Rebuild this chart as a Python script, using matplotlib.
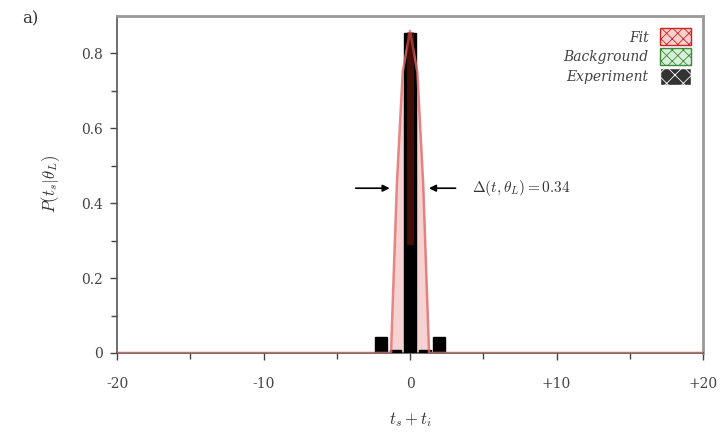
import numpy as np
import matplotlib.pyplot as plt
from matplotlib.patches import Patch

# data
exp_x = [-2, -1, 0, 1, 2]
exp_y = [0.043, 0.008, 0.855, 0.008, 0.043]
bg_x = [-1, 0, 1]
bg_y = [0.006, 0.012, 0.006]
fit_x = [-20, -2, -1.3, -0.9, -0.5, 0, 0.5, 0.9, 1.3, 2, 20]
fit_y = [0.0, 0.0, 0.0, 0.45, 0.75, 0.86, 0.75, 0.45, 0.0, 0.0, 0.0]
xticks = [-20, -10, 0, 10, 20]
xticklabels = ['-20', '-10', '0', '+10', '+20']
yticks = [0, 0.2, 0.4, 0.6, 0.8]
yticklabels = ['0', '0.2', '0.4', '0.6', '0.8']

plt.rcParams['font.family'] = 'serif'
plt.rcParams['font.serif'] = ['DejaVu Serif']
plt.rcParams['mathtext.fontset'] = 'cm'
plt.rcParams['hatch.linewidth'] = 0.6

fig = plt.figure(figsize=(7.27, 4.32), dpi=100)
ax = fig.add_axes([0.161, 0.183, 0.806, 0.78])

##Fit curve with light fill
ax.fill_between(fit_x, fit_y, color='#f2b4b4', alpha=0.6, lw=0, zorder=1)
##Background and experiment bars
ax.bar(bg_x, bg_y, width=0.8, color='#cfe8cf', edgecolor='#3a8a3a', lw=0.6, zorder=2)
ax.bar(exp_x, exp_y, width=0.8, color='black', edgecolor='black', zorder=3)
ax.plot(fit_x, fit_y, color='#e06a6a', lw=1.8, alpha=0.8, zorder=4)
ax.plot([0, 0], [0.3, 0.85], color='#8a1a10', lw=5, alpha=0.5, zorder=5)

ax.set_xlim(-20, 20)
ax.set_ylim(0, 0.9)
ax.set_xticks(xticks)
ax.set_xticklabels(xticklabels)
ax.set_xticks(np.arange(-20, 21, 5), minor=True)
ax.set_yticks(yticks)
ax.set_yticklabels(yticklabels)
ax.set_yticks(np.arange(0, 0.9, 0.1), minor=True)
ax.tick_params(labelsize=10, colors='#444444', length=5, width=1)
ax.tick_params(which='minor', length=4, width=1, colors='#444444')
ax.tick_params(axis='x', pad=12)
ax.tick_params(axis='y', pad=5)
for s in ['top', 'right']:
    ax.spines[s].set_color('#999999')
    ax.spines[s].set_linewidth(2)
for s in ['left', 'bottom']:
    ax.spines[s].set_color('#555555')
    ax.spines[s].set_linewidth(1.2)

ax.set_xlabel(r'$t_s + t_i$', fontsize=12, color='#333333', labelpad=14)
ax.set_ylabel(r'$P(t_s|\theta_L)$', fontsize=12, color='#333333', labelpad=14)

##Arrows marking the width
ax.annotate('', xy=(-1.2, 0.44), xytext=(-3.9, 0.44),
            arrowprops=dict(arrowstyle='-|>', color='black', lw=1.2))
ax.annotate('', xy=(1.1, 0.44), xytext=(3.3, 0.44),
            arrowprops=dict(arrowstyle='-|>', color='black', lw=1.2))
ax.text(4.2, 0.44, r'$\Delta(t,\theta_L) = 0.34$', fontsize=11, va='center', color='#333333')

##Legend with labels on the left of the patches
handles = [Patch(facecolor='#f8d0d0', edgecolor='#d02020', hatch='xxx', label='Fit'),
           Patch(facecolor='#d8efd8', edgecolor='#3a8a3a', hatch='xxx', label='Background'),
           Patch(facecolor='#333333', edgecolor='white', hatch='xx', label='Experiment')]
leg = ax.legend(handles=handles, loc='upper right', frameon=False, markerfirst=False,
                prop={'style': 'italic', 'size': 10}, handlelength=2.2, handleheight=1.5,
                labelspacing=0.2, borderaxespad=0.5)
for t in leg.get_texts():
    t.set_color('#444444')

fig.text(0.03, 0.945, 'a)', fontsize=12, color='#333333')

plt.savefig('out.png', dpi=100)
